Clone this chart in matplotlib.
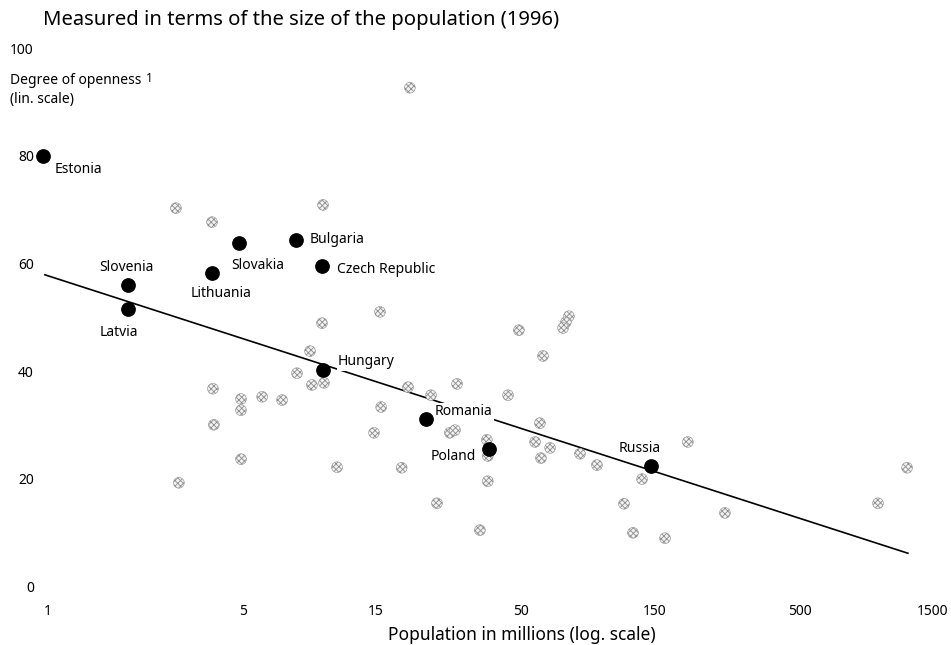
import matplotlib
matplotlib.use('Agg')
import matplotlib.pyplot as plt
from matplotlib.ticker import NullLocator

plt.rcParams['font.family'] = ['Noto Sans', 'DejaVu Sans']
plt.rcParams['hatch.linewidth'] = 0.6

# Highlighted transition countries
countries = ['Estonia', 'Slovenia', 'Latvia', 'Lithuania', 'Slovakia', 'Bulgaria',
             'Czech Republic', 'Hungary', 'Romania', 'Poland', 'Russia']
country_pop = [0.96, 1.94, 1.94, 3.88, 4.85, 7.77, 9.63, 9.71, 22.7, 38.3, 146]
country_open = [80.0, 56.0, 51.5, 58.2, 63.8, 64.4, 59.5, 40.2, 31.1, 25.5, 22.3]

# Other countries (grey dots)
other_pop = [19.9, 2.88, 3.88, 9.71, 15.55, 9.63, 49.0, 74.1, 72.3, 70.6,
             59.8, 8.72, 7.83, 8.86, 9.79, 19.6, 23.7, 29.4, 44.8, 3.91,
             4.93, 4.93, 5.87, 6.92, 3.94, 4.93, 2.95, 10.9, 15.7, 14.8,
             18.6, 27.7, 28.9, 37.6, 37.9, 58.3, 56.0, 63.4, 58.8, 81.2,
             93.4, 24.9, 37.9, 35.5, 198, 135.6, 116.8, 125.8, 163.9, 269,
             953, 1212]
other_open = [92.7, 70.3, 67.7, 70.9, 51.0, 48.9, 47.6, 50.2, 49.1, 48.0,
              42.8, 43.7, 39.6, 37.4, 37.8, 37.0, 35.5, 37.6, 35.5, 36.7,
              34.8, 32.7, 35.2, 34.6, 30.0, 23.6, 19.2, 22.1, 33.3, 28.5,
              22.0, 28.5, 29.0, 27.2, 24.2, 30.3, 26.8, 25.7, 23.8, 24.6,
              22.5, 15.4, 19.5, 10.4, 26.8, 19.9, 15.3, 9.9, 8.9, 13.6,
              15.4, 22.0]

# Regression line end points
fit_pop = [0.975, 1220]
fit_open = [57.9, 6.1]

x_ticks = [1, 5, 15, 50, 150, 500, 1500]
y_ticks = [0, 20, 40, 60, 80, 100]

# label offsets in pixels from the dot, and alignment
label_pos = {
    'Estonia': (12, -14, 'left'),
    'Slovenia': (-2, 18, 'center'),
    'Latvia': (-9, -23, 'center'),
    'Lithuania': (9, -20, 'center'),
    'Slovakia': (19, -22, 'center'),
    'Bulgaria': (14, 0, 'left'),
    'Czech Republic': (15, -3, 'left'),
    'Hungary': (15, 8, 'left'),
    'Romania': (9, 7, 'left'),
    'Poland': (-13, -8, 'right'),
    'Russia': (-11, 18, 'center'),
}

fig = plt.figure(figsize=(9.51, 6.45), dpi=100)
ax = fig.add_axes([38 / 951, 45 / 645, 907 / 951, 560 / 645])
ax.set_xscale('log')
ax.set_xlim(0.921, 1658)
ax.set_ylim(-2.6, 101.58)

ax.plot(fit_pop, fit_open, color='black', lw=1.2, zorder=1)
ax.scatter(other_pop, other_open, s=60, facecolor='#f2f2f2', edgecolor='#8e8e8e',
           hatch='xxxxxx', linewidths=0.4, zorder=3, clip_on=False)
ax.scatter(country_pop, country_open, s=92, color='black', zorder=4, clip_on=False)

for name, x, y in zip(countries, country_pop, country_open):
    dx, dy, ha = label_pos[name]
    ax.annotate(name, (x, y), xytext=(dx, dy), textcoords='offset pixels',
                ha=ha, va='center', fontsize=10, zorder=2,
                bbox=dict(boxstyle='square,pad=0.1', fc='white', ec='none'))

# Axes: no frame, only tick labels
ax.set_xticks(x_ticks)
ax.set_xticklabels([str(t) for t in x_ticks])
ax.xaxis.set_minor_locator(NullLocator())
ax.set_yticks(y_ticks)
ax.tick_params(length=0, labelsize=10)
ax.tick_params(axis='y', pad=3)
ax.tick_params(axis='x', pad=3)
for s in ax.spines.values():
    s.set_visible(False)

# Titles and axis labels
fig.text(43 / 951, 1 - 20 / 645, 'Measured in terms of the size of the population (1996)',
         fontsize=14.6, ha='left', va='center')
fig.text(10 / 951, 1 - 80 / 645, 'Degree of openness', fontsize=10, ha='left', va='center')
fig.text(146 / 951, 1 - 78 / 645, '1', fontsize=8.5, fontweight='bold', ha='left', va='center')
fig.text(10 / 951, 1 - 99 / 645, '(lin. scale)', fontsize=10, ha='left', va='center')
fig.text(522 / 951, 1 - 635 / 645, 'Population in millions (log. scale)',
         fontsize=12.5, ha='center', va='center')

plt.savefig('out.png', dpi=100)
